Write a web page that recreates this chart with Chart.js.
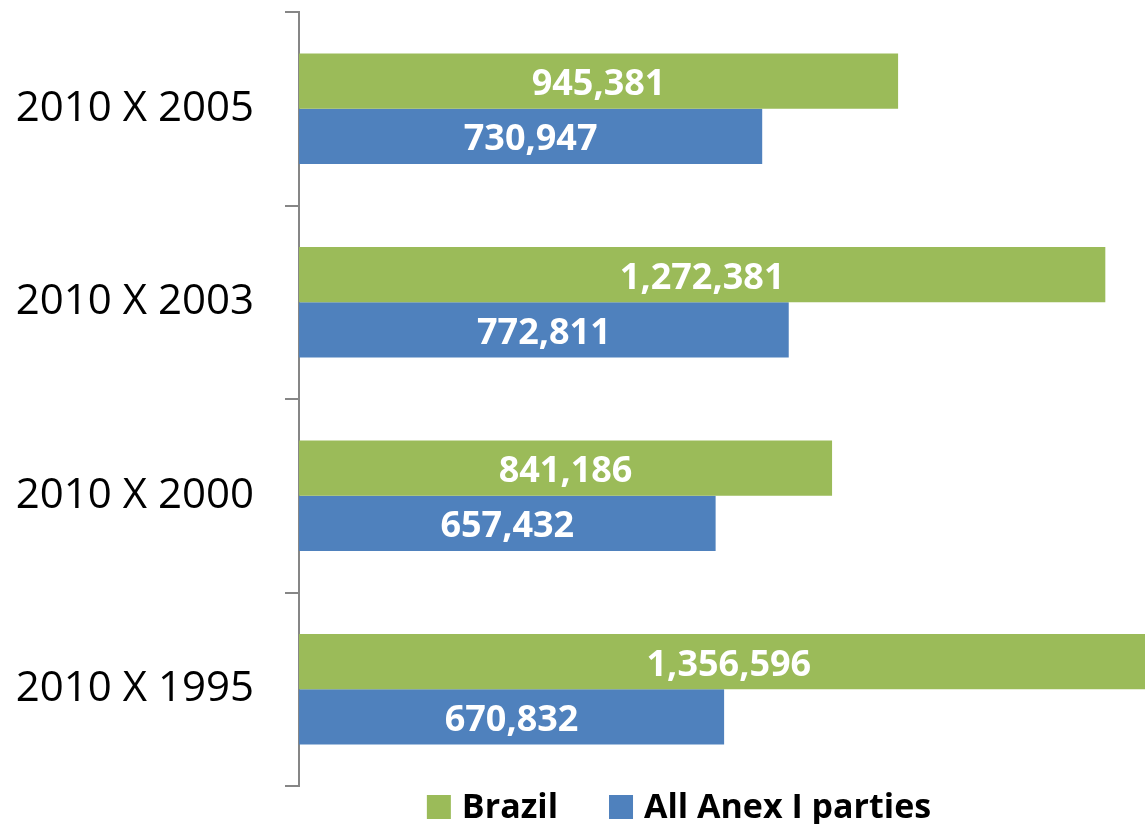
<!DOCTYPE html>
<html><head><meta charset="utf-8">
<script src="https://cdn.jsdelivr.net/npm/chart.js@4/dist/chart.umd.min.js"></script>
<style>html,body{margin:0;padding:0;background:#fff;overflow:hidden}#wrap{width:1145px;height:824px;position:relative}</style>
</head><body><div id="wrap"><canvas id="c"></canvas></div>
<script>
const categories = ['2010 X 2005', '2010 X 2003', '2010 X 2000', '2010 X 1995'];
const seriesNames = ['Brazil', 'All Anex I parties'];
const brazilValues = [945381, 1272381, 841186, 1356596];
const anexIValues = [730947, 772811, 657432, 670832];
const seriesColors = ['#9BBB59', '#4F81BD'];
const FONT = "'Open Sans', sans-serif";

function fmt(v) { return String(v).replace(/\B(?=(\d{3})+(?!\d))/g, ','); }

const valueLabels = {
  id: 'valueLabels',
  afterDatasetsDraw(chart) {
    const ctx = chart.ctx;
    ctx.save();
    ctx.font = 'bold 36px ' + FONT;
    ctx.fillStyle = '#ffffff';
    ctx.textAlign = 'center';
    ctx.textBaseline = 'alphabetic';
    chart.data.datasets.forEach((ds, i) => {
      chart.getDatasetMeta(i).data.forEach((el, j) => {
        ctx.fillText(fmt(ds.data[j]), (el.base + el.x) / 2, el.y + 14);
      });
    });
    ctx.restore();
  }
};

const customLegend = {
  id: 'customLegend',
  afterDraw(chart) {
    const ctx = chart.ctx;
    ctx.save();
    ctx.font = 'bold 34px ' + FONT;
    const box = 24, boxGap = 11, itemGap = 51;
    const items = chart.data.datasets.map(ds => ({ text: ds.label, color: ds.backgroundColor, w: ctx.measureText(ds.label).width }));
    let total = items.reduce((s, it) => s + box + boxGap + it.w, 0) + itemGap * (items.length - 1);
    let x = 679 - total / 2;
    const baseline = 818;
    items.forEach(it => {
      ctx.fillStyle = it.color;
      ctx.fillRect(x, baseline - 23, box, box);
      ctx.fillStyle = '#000000';
      ctx.textAlign = 'left';
      ctx.textBaseline = 'alphabetic';
      ctx.fillText(it.text, x + box + boxGap, baseline);
      x += box + boxGap + it.w + itemGap;
    });
    ctx.restore();
  }
};

new Chart(document.getElementById('c'), {
  type: 'bar',
  data: {
    labels: categories,
    datasets: [
      { label: seriesNames[0], data: brazilValues, backgroundColor: seriesColors[0], categoryPercentage: 0.572, barPercentage: 1.0, clip: false },
      { label: seriesNames[1], data: anexIValues, backgroundColor: seriesColors[1], categoryPercentage: 0.572, barPercentage: 1.0, clip: false }
    ]
  },
  options: {
    indexAxis: 'y',
    responsive: true,
    maintainAspectRatio: false,
    animation: false,
    layout: { padding: { top: 12, bottom: 38, left: 0, right: 0 } },
    plugins: { legend: { display: false }, tooltip: { enabled: false } },
    scales: {
      x: { display: false, min: 0, max: 1335000 },
      y: {
        afterFit(scale) { scale.width = 299; scale.paddingTop = 0; scale.paddingBottom = 0; },
        border: { display: true, color: '#868686', width: 2 },
        grid: { drawOnChartArea: false, drawTicks: true, tickLength: 14, color: '#868686', lineWidth: 2, offset: true },
        ticks: { color: '#000000', font: { family: FONT, size: 42 }, padding: 31 }
      }
    }
  },
  plugins: [valueLabels, customLegend]
});
</script>
</body></html>
